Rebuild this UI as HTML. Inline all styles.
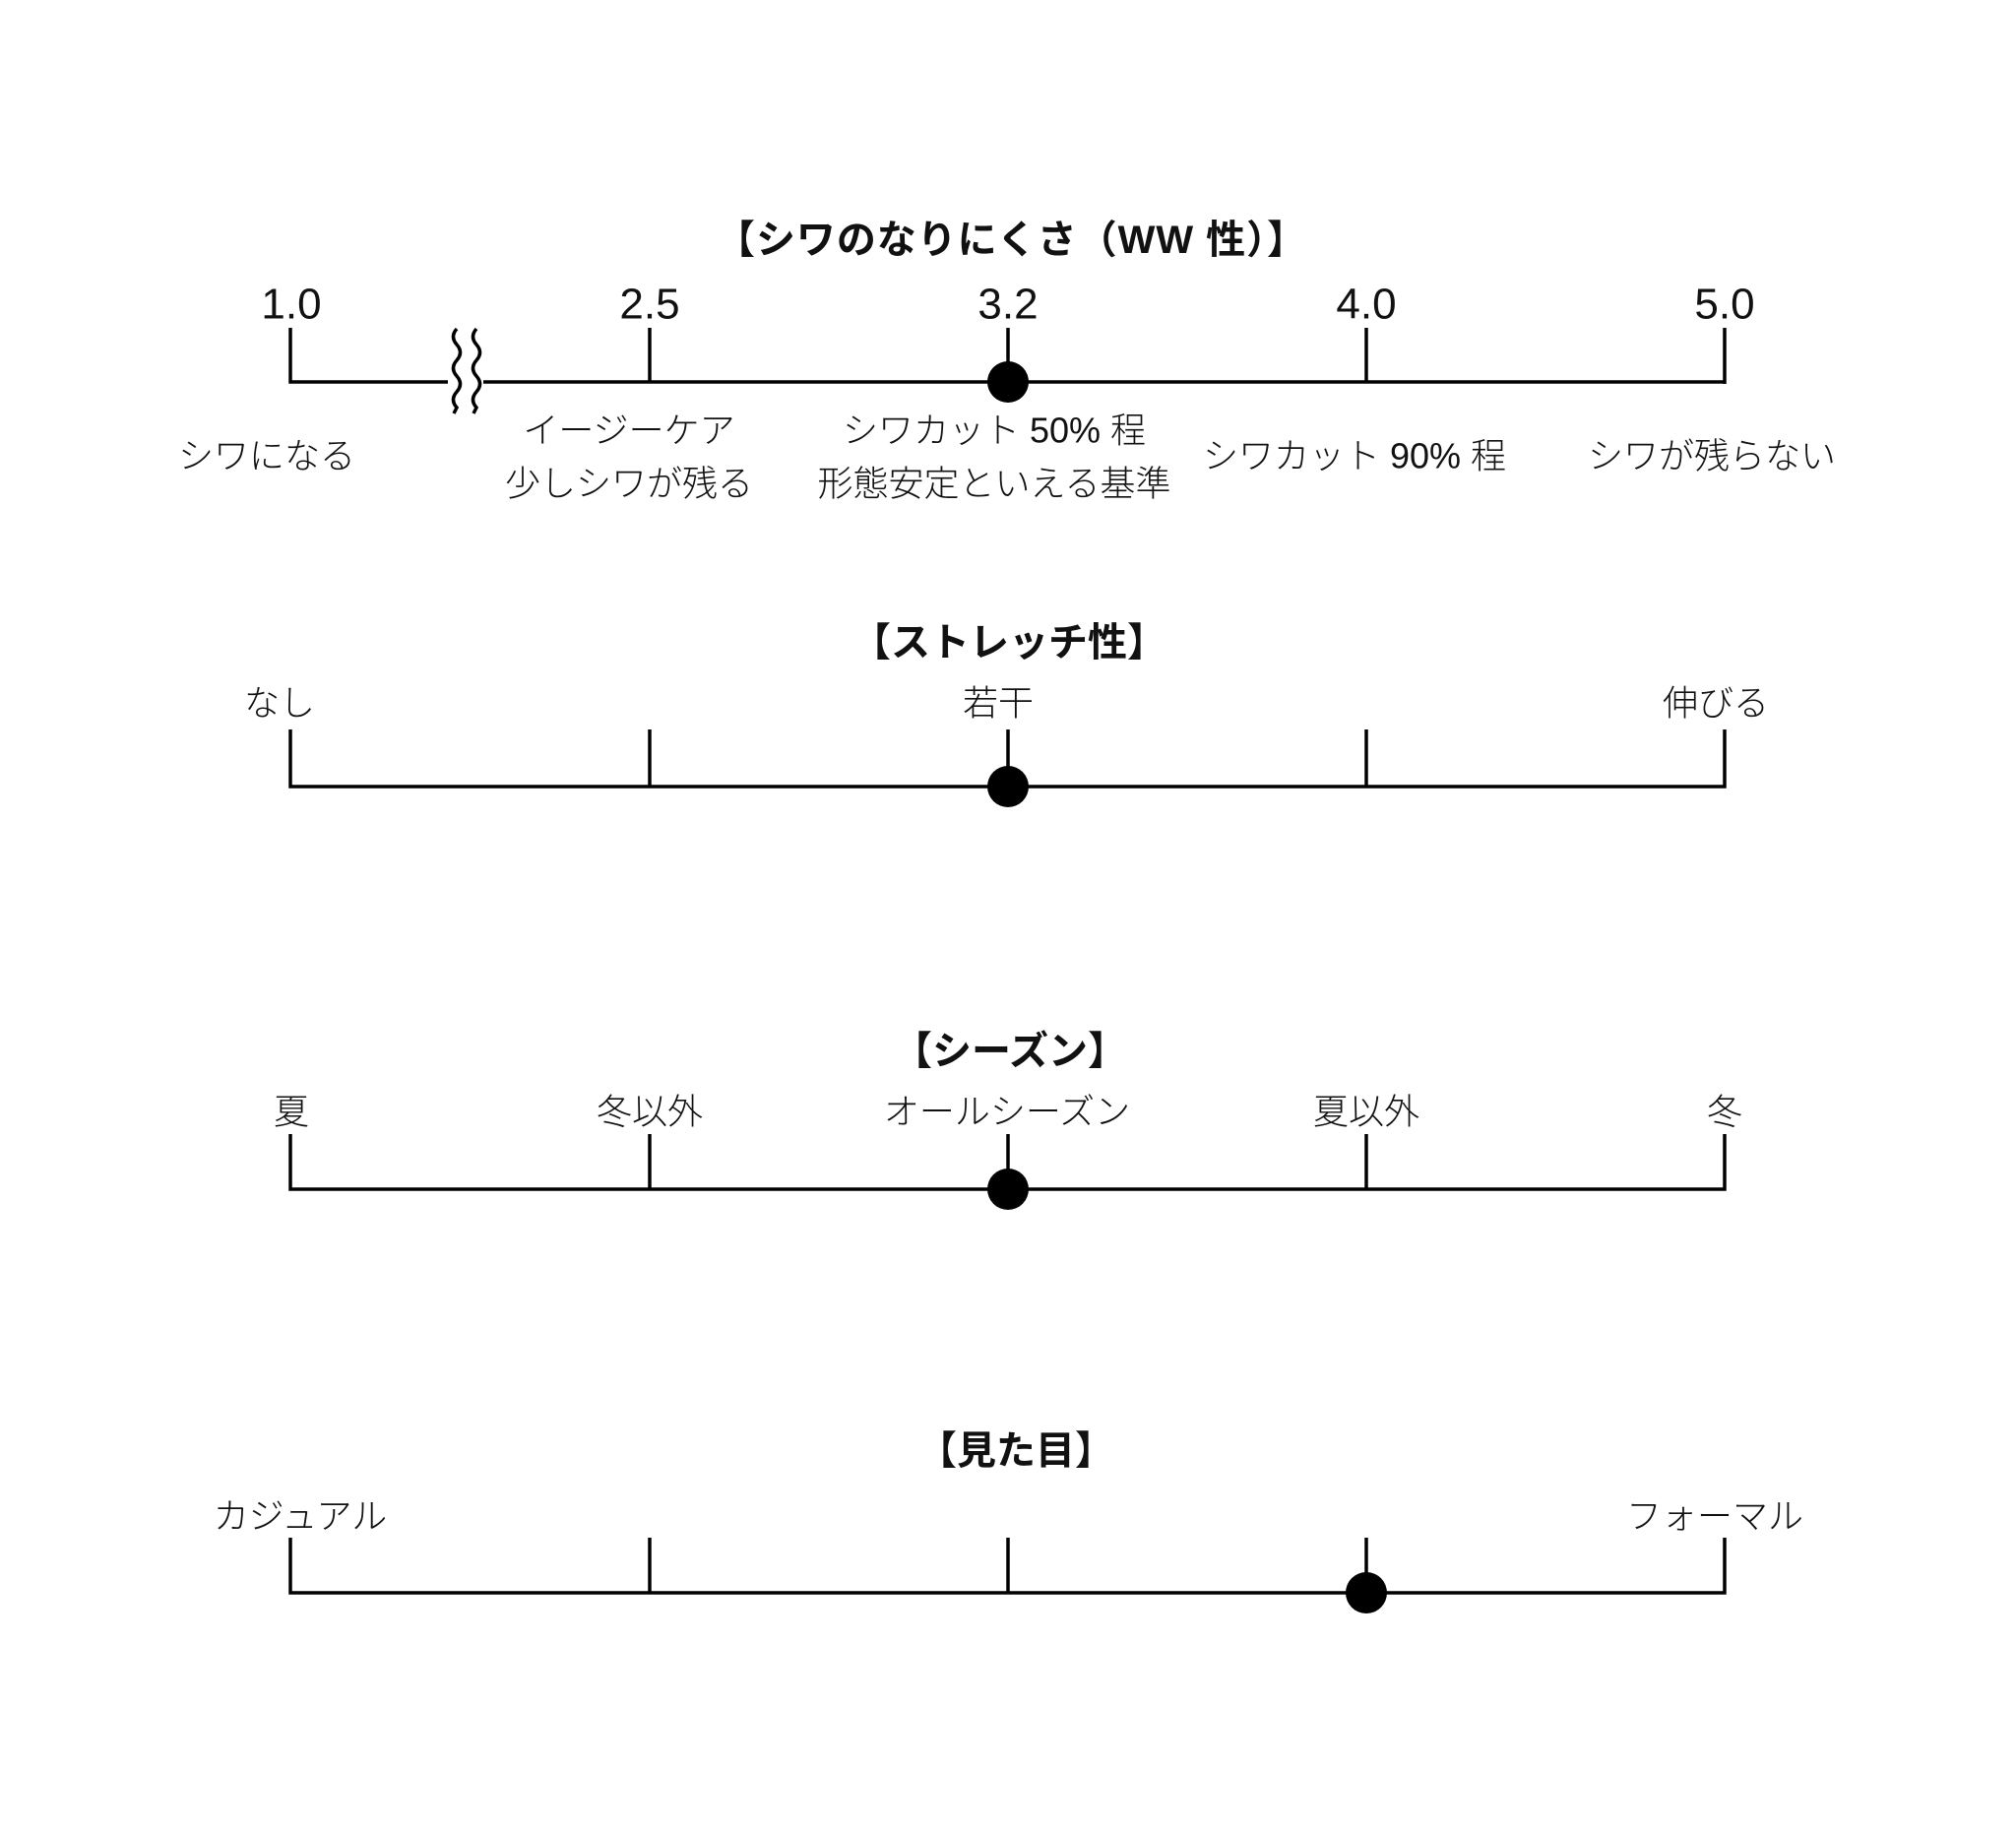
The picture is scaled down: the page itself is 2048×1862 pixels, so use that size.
<!DOCTYPE html>
<html><head><meta charset="utf-8"><style>
html,body{margin:0;padding:0;background:#fff;}
svg{display:block;}
text{font-family:"Liberation Sans","Noto Sans CJK JP",sans-serif;fill:#111;}
.t{font-weight:bold;font-size:40px;}
.l{font-size:36px;font-weight:300;}
.n{font-size:44px;}
</style></head><body>
<svg width="2048" height="1862" viewBox="0 0 2048 1862" xmlns="http://www.w3.org/2000/svg">
<g stroke="#000" stroke-width="3.5" fill="none">
<polyline points="295,333 295,388 455,388"/>
<line x1="491" y1="388" x2="1752" y2="388"/>
<line x1="660" y1="333" x2="660" y2="388"/>
<line x1="1024" y1="333" x2="1024" y2="388"/>
<line x1="1388" y1="333" x2="1388" y2="388"/>
<line x1="1752" y1="333" x2="1752" y2="390"/>
<path d="M464,334 q-7,8 0,16 q7,8 0,16 q-7,8 0,16 q7,8 0,16 q-7,8 0,16 l-3,6"/>
<path d="M484,334 q-7,8 0,16 q7,8 0,16 q-7,8 0,16 q7,8 0,16 q-7,8 0,16 l-3,6"/>
<polyline points="295,741 295,799 1752,799 1752,741"/>
<line x1="660" y1="741" x2="660" y2="799"/>
<line x1="1024" y1="741" x2="1024" y2="799"/>
<line x1="1388" y1="741" x2="1388" y2="799"/>
<polyline points="295,1152 295,1208 1752,1208 1752,1152"/>
<line x1="660" y1="1152" x2="660" y2="1208"/>
<line x1="1024" y1="1152" x2="1024" y2="1208"/>
<line x1="1388" y1="1152" x2="1388" y2="1208"/>
<polyline points="295,1562 295,1618 1752,1618 1752,1562"/>
<line x1="660" y1="1562" x2="660" y2="1618"/>
<line x1="1024" y1="1562" x2="1024" y2="1618"/>
<line x1="1388" y1="1562" x2="1388" y2="1618"/>
</g>
<circle cx="1024" cy="388" r="21" fill="#000"/>
<circle cx="1024" cy="799" r="21" fill="#000"/>
<circle cx="1024" cy="1208" r="21" fill="#000"/>
<circle cx="1388" cy="1618" r="21" fill="#000"/>
<g text-anchor="middle" dominant-baseline="central">
<text class="t" x="1027" y="244" textLength="600">【シワのなりにくさ（WW 性）】</text>
<text class="n" x="296" y="309">1.0</text>
<text class="n" x="660" y="309">2.5</text>
<text class="n" x="1024" y="309">3.2</text>
<text class="n" x="1388" y="309">4.0</text>
<text class="n" x="1752" y="309">5.0</text>
<text class="l" x="271" y="463">シワになる</text>
<text class="l" x="639" y="437">イージーケア</text>
<text class="l" x="639" y="491">少しシワが残る</text>
<text class="l" x="1010" y="437">シワカット 50% 程</text>
<text class="l" x="1010" y="491">形態安定といえる基準</text>
<text class="l" x="1376" y="463">シワカット 90% 程</text>
<text class="l" x="1739" y="463">シワが残らない</text>

<text class="t" x="1025" y="653">【ストレッチ性】</text>
<text class="l" x="284" y="714">なし</text>
<text class="l" x="1014" y="714">若干</text>
<text class="l" x="1743" y="714">伸びる</text>

<text class="t" x="1026" y="1068">【シーズン】</text>
<text class="l" x="296" y="1129">夏</text>
<text class="l" x="660" y="1129">冬以外</text>
<text class="l" x="1023" y="1129">オールシーズン</text>
<text class="l" x="1388" y="1129">夏以外</text>
<text class="l" x="1752" y="1129">冬</text>

<text class="t" x="1032" y="1474">【見た目】</text>
<text class="l" x="305" y="1540">カジュアル</text>
<text class="l" x="1742" y="1540">フォーマル</text>
</g>
</svg>
</body></html>
